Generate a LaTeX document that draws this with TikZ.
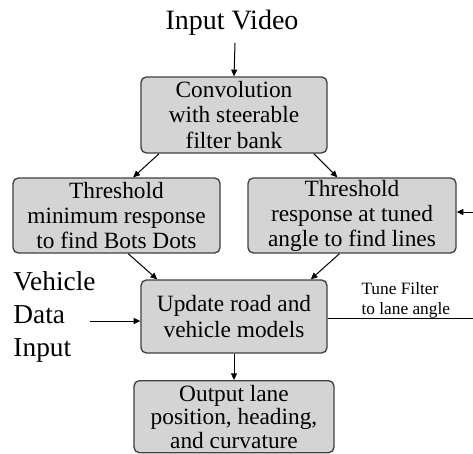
\documentclass[tikz,border=0pt]{standalone}
\usepackage{fontspec}
\setmainfont{Liberation Serif}
\usetikzlibrary{arrows.meta,calc}

\begin{document}
\begin{tikzpicture}[x=0.75pt,y=-0.75pt,line width=.75pt,
    every node/.style={inner sep=0pt},
    stepbox/.style={draw=black!75,line width=1pt,fill=black!17,rounded corners=4pt,
      align=center,font=\fontsize{17.5}{18.8}\selectfont},
    flow/.style={-{Triangle[length=5pt,width=4.5pt]}}]
  \clip (0,0) rectangle (473,453);

  \node[font=\fontsize{21}{24}\selectfont] (video) at (232,23) {Input Video};
  \node[stepbox,minimum width=186*0.75pt,minimum height=76*0.75pt] (conv) at (234,115)
    {Convolution\\with steerable\\filter bank};
  \node[stepbox,minimum width=207*0.75pt,minimum height=75*0.75pt] (dots) at (116.5,215.5)
    {Threshold\\minimum response\\to find Bots Dots};
  \node[stepbox,minimum width=208*0.75pt,minimum height=75*0.75pt] (lines) at (352,215.5)
    {Threshold\\response at tuned\\angle to find lines};
  \node[stepbox,minimum width=186*0.75pt,minimum height=73*0.75pt] (update) at (234,316.5)
    {Update road and\\vehicle models};
  \node[stepbox,font=\fontsize{17.5}{17.6}\selectfont,minimum width=200*0.75pt,
    minimum height=72*0.75pt,anchor=north] (output) at (234,380)
    {Output lane\\position, heading,\\and curvature};

  \node[anchor=west,align=left,font=\fontsize{20.5}{24.8}\selectfont] (vehicle) at (13,317)
    {Vehicle\\Data\\Input};
  \node[anchor=west,align=left,font=\fontsize{13}{15}\selectfont] (tune) at (361,300)
    {Tune Filter\\to lane angle};

  \coordinate (vin) at (90,321);
  \coordinate (tuneend) at (473,318);
  \coordinate (back) at (473,212);

  \draw[flow] (235,43) -- (conv.north);
  \draw[flow] ($(conv.south west)!.1!(conv.south east)$) -- ($(dots.north west)!.58!(dots.north east)$);
  \draw[flow] ($(conv.south west)!.926!(conv.south east)$) -- ($(lines.north west)!.43!(lines.north east)$);
  \draw[flow] ($(dots.south west)!.556!(dots.south east)$) -- ($(update.north west)!.09!(update.north east)$);
  \draw[flow] ($(lines.south west)!.44!(lines.south east)$) -- ($(update.north west)!.91!(update.north east)$);
  \draw[flow] (vin) -- (vin -| update.west);
  \draw (update.east |- tuneend) -- (tuneend);
  \draw[flow] (back) -- (back -| lines.east);
  \draw[flow] (update.south) -- (output.north);
\end{tikzpicture}
\end{document}
